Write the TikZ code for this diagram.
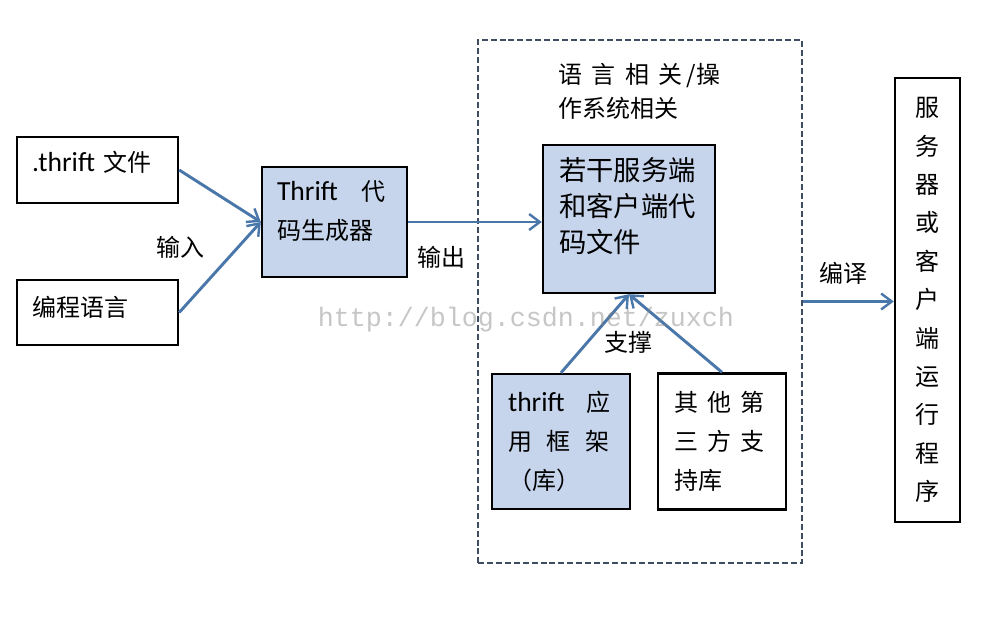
\documentclass[tikz,border=0pt]{standalone}
\usepackage{fontspec}
\setmainfont{Noto Sans CJK SC}
\newfontfamily\latin[Scale=1.15]{Carlito}
\newfontfamily\wmfont{Liberation Mono}
\usetikzlibrary{arrows.meta}
\definecolor{boxblue}{HTML}{C6D5EC}
\definecolor{arrowblue}{HTML}{4A77AA}
\definecolor{dashgray}{HTML}{3E4D62}

\begin{document}
\begin{tikzpicture}[x=0.75pt, y=-0.75pt,
  box/.style={draw=black, line width=1.8pt, align=left, inner xsep=11.25pt, inner ysep=3pt,
    font=\fontsize{18}{27}\selectfont},
  bluebox/.style={box, fill=boxblue},
  flow/.style={draw=arrowblue, line width=2.2pt,
    -{Straight Barb[length=8pt, width=12pt, line width=1.8pt]}},
  lbl/.style={font=\fontsize{18}{22}\selectfont, inner sep=1pt}]
  % One pixel of the canvas
  \def\px{0.75pt}
  \useasboundingbox (0,0) rectangle (1006,617);

  % Inputs and the code generator
  \node[box, minimum width=161*\px, minimum height=66*\px, text width=131*\px, text depth=17*\px] (thriftfile) at (97.5,170) {{\latin .thrift} 文件};
  \node[box, minimum width=161*\px, minimum height=65*\px, text width=131*\px, text depth=13*\px] (lang) at (97.5,312.5) {编程语言};
  \node[bluebox, minimum width=145*\px, minimum height=110*\px, text width=115*\px, text depth=63*\px, font=\fontsize{18}{29}\selectfont] (gen) at (334.5,222) {{\latin Thrift}\hspace{18pt}代\\码生成器};

  % Language / OS dependent region
  \node[draw=dashgray, line width=1.7pt, dash pattern=on 4.5pt off 2.2pt, minimum width=324*\px, minimum height=523*\px] (region) at (640,301.5) {};
  \node[lbl, anchor=north west, align=left, font=\fontsize{18}{25}\selectfont] (title) at (557,62) {语\hspace{7pt}言\hspace{7pt}相\hspace{7pt}关\hspace{3pt}/操\\作系统相关};
  \node[bluebox, minimum width=172*\px, minimum height=148*\px, text width=140*\px, text depth=99*\px, font=\fontsize{20.5}{27}\selectfont] (code) at (629,219) {若干服务端\\和客户端代\\码文件};
  \node[bluebox, minimum width=138*\px, minimum height=135*\px, text width=106*\px, font=\fontsize{18}{29}\selectfont] (framework) at (561,441.5) {{\latin thrift}\hspace{16pt}应\\用\hspace{11pt}框\hspace{11pt}架\\（库）};
  \node[box, minimum width=128*\px, minimum height=136*\px, text width=96*\px, font=\fontsize{18}{29}\selectfont] (other) at (722,441.5) {其\hspace{7pt}他\hspace{7pt}第\\三\hspace{7pt}方\hspace{7pt}支\\持库};

  % Final program
  \node[box, align=center, inner xsep=2pt, minimum width=65*\px, minimum height=444*\px, text width=30*\px, font=\fontsize{18}{28.8}\selectfont] (prog) at (927.5,300) {服\\务\\器\\或\\客\\户\\端\\运\\行\\程\\序};

  % Drawing the connectors
  \draw[flow] (thriftfile.east) -- (gen.west);
  \draw[flow] (lang.east) -- (gen.west);
  \draw[flow] (gen.east) -- (gen.east -| code.west);
  \draw[flow] (framework.north) -- (code.south);
  \draw[flow] (other.north) -- (code.south);
  \draw[flow] (region.east) -- (region.east -| prog.west);

  % Connector labels
  \node[lbl] (input) at (180,247) {输入};
  \node[lbl] (output) at (441,257) {输出};
  \node[lbl] (support) at (628,342) {支撑};
  \node[lbl] (compile) at (843,273) {编译};

  % Watermark
  \node[text=gray, text opacity=0.45, font=\wmfont\fontsize{20}{24}\selectfont] (watermark) at (526,320) {http://blog.csdn.net/zuxch};
\end{tikzpicture}
\end{document}
